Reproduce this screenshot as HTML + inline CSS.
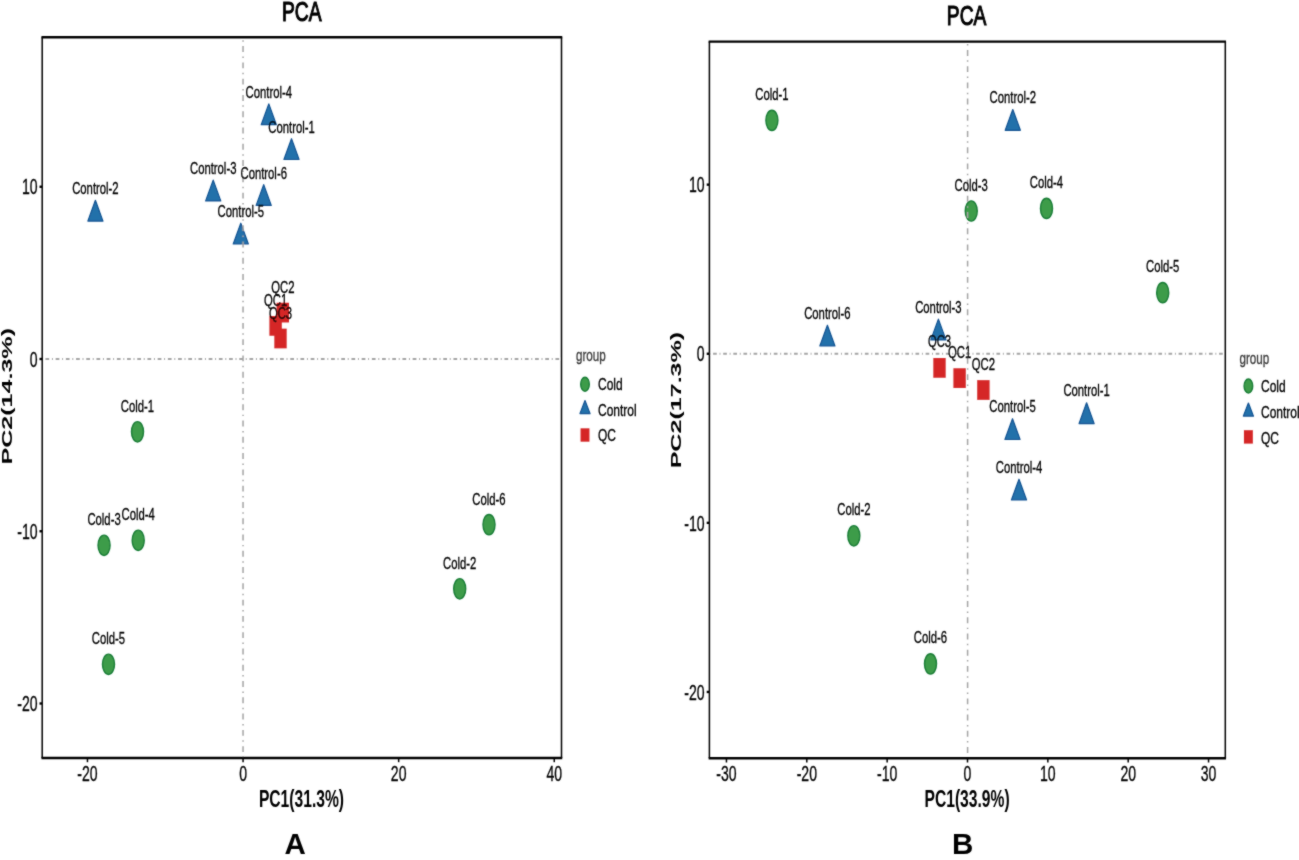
<!DOCTYPE html>
<html><head><meta charset="utf-8"><style>
html,body{margin:0;padding:0;background:#fff;}
svg{display:block;}
text{font-family:"Liberation Sans", sans-serif;}
</style></head><body>
<svg width="1299" height="860" viewBox="0 0 1299 860">
<defs><filter id="bl" x="0" y="0" width="1299" height="860" filterUnits="userSpaceOnUse"><feConvolveMatrix order="3" kernelMatrix="1 2 1 2 16 2 1 2 1" divisor="28" edgeMode="duplicate" preserveAlpha="false"/></filter></defs>
<rect width="1299" height="860" fill="#fff"/>
<g filter="url(#bl)">
<text transform="translate(301.70,20.60) scale(0.675,1)" font-size="28.5" text-anchor="middle" font-weight="normal" fill="#000" stroke="#000" stroke-width="1.2">PCA</text>
<polygon points="268.80,103.90 276.35,124.70 261.25,124.70" fill="#2471aa" stroke="#125293" stroke-width="1.2" stroke-linejoin="round"/>
<polygon points="291.50,138.70 299.05,159.50 283.95,159.50" fill="#2471aa" stroke="#125293" stroke-width="1.2" stroke-linejoin="round"/>
<polygon points="213.20,180.10 220.75,200.90 205.65,200.90" fill="#2471aa" stroke="#125293" stroke-width="1.2" stroke-linejoin="round"/>
<polygon points="263.70,184.60 271.25,205.40 256.15,205.40" fill="#2471aa" stroke="#125293" stroke-width="1.2" stroke-linejoin="round"/>
<polygon points="95.40,200.30 102.95,221.10 87.85,221.10" fill="#2471aa" stroke="#125293" stroke-width="1.2" stroke-linejoin="round"/>
<polygon points="240.80,223.20 248.35,244.00 233.25,244.00" fill="#2471aa" stroke="#125293" stroke-width="1.2" stroke-linejoin="round"/>
<rect x="274.30" y="328.65" width="12.40" height="19.70" fill="#d52727"/>
<rect x="269.40" y="316.05" width="12.40" height="19.70" fill="#d52727"/>
<rect x="276.60" y="302.75" width="12.40" height="19.70" fill="#d52727"/>
<ellipse cx="137.50" cy="431.80" rx="6.00" ry="10.15" fill="#3e9c4a" stroke="#187d36" stroke-width="1.4"/>
<ellipse cx="104.05" cy="545.30" rx="6.00" ry="10.15" fill="#3e9c4a" stroke="#187d36" stroke-width="1.4"/>
<ellipse cx="138.20" cy="540.30" rx="6.00" ry="10.15" fill="#3e9c4a" stroke="#187d36" stroke-width="1.4"/>
<ellipse cx="108.50" cy="664.30" rx="6.00" ry="10.15" fill="#3e9c4a" stroke="#187d36" stroke-width="1.4"/>
<ellipse cx="489.00" cy="524.60" rx="6.00" ry="10.15" fill="#3e9c4a" stroke="#187d36" stroke-width="1.4"/>
<ellipse cx="459.70" cy="588.80" rx="6.00" ry="10.15" fill="#3e9c4a" stroke="#187d36" stroke-width="1.4"/>
<line x1="243.05" y1="758.00" x2="243.05" y2="37.20" stroke="#a4a4a4" stroke-width="1.5" stroke-dasharray="1.48 4.44 5.92 4.44" stroke-dashoffset="0"/>
<line x1="42.20" y1="359.00" x2="561.50" y2="359.00" stroke="#a4a4a4" stroke-width="2.1" stroke-dasharray="0.93 2.78 3.71 2.78" stroke-dashoffset="0.45"/>
<text transform="translate(268.80,97.97) scale(0.665,1)" font-size="17.0" text-anchor="middle" font-weight="normal" fill="#000" stroke="#000" stroke-width="0.35">Control-4</text>
<text transform="translate(291.50,132.77) scale(0.665,1)" font-size="17.0" text-anchor="middle" font-weight="normal" fill="#000" stroke="#000" stroke-width="0.35">Control-1</text>
<text transform="translate(213.20,174.17) scale(0.665,1)" font-size="17.0" text-anchor="middle" font-weight="normal" fill="#000" stroke="#000" stroke-width="0.35">Control-3</text>
<text transform="translate(263.70,178.67) scale(0.665,1)" font-size="17.0" text-anchor="middle" font-weight="normal" fill="#000" stroke="#000" stroke-width="0.35">Control-6</text>
<text transform="translate(95.40,194.37) scale(0.665,1)" font-size="17.0" text-anchor="middle" font-weight="normal" fill="#000" stroke="#000" stroke-width="0.35">Control-2</text>
<text transform="translate(240.80,217.27) scale(0.665,1)" font-size="17.0" text-anchor="middle" font-weight="normal" fill="#000" stroke="#000" stroke-width="0.35">Control-5</text>
<text transform="translate(280.50,318.50) scale(0.665,1)" font-size="17.0" text-anchor="middle" font-weight="normal" fill="#000" stroke="#000" stroke-width="0.35">QC3</text>
<text transform="translate(275.60,305.90) scale(0.665,1)" font-size="17.0" text-anchor="middle" font-weight="normal" fill="#000" stroke="#000" stroke-width="0.35">QC1</text>
<text transform="translate(282.80,292.60) scale(0.665,1)" font-size="17.0" text-anchor="middle" font-weight="normal" fill="#000" stroke="#000" stroke-width="0.35">QC2</text>
<text transform="translate(137.50,411.80) scale(0.665,1)" font-size="17.0" text-anchor="middle" font-weight="normal" fill="#000" stroke="#000" stroke-width="0.35">Cold-1</text>
<text transform="translate(104.05,525.30) scale(0.665,1)" font-size="17.0" text-anchor="middle" font-weight="normal" fill="#000" stroke="#000" stroke-width="0.35">Cold-3</text>
<text transform="translate(138.20,520.30) scale(0.665,1)" font-size="17.0" text-anchor="middle" font-weight="normal" fill="#000" stroke="#000" stroke-width="0.35">Cold-4</text>
<text transform="translate(108.50,644.30) scale(0.665,1)" font-size="17.0" text-anchor="middle" font-weight="normal" fill="#000" stroke="#000" stroke-width="0.35">Cold-5</text>
<text transform="translate(489.00,504.60) scale(0.665,1)" font-size="17.0" text-anchor="middle" font-weight="normal" fill="#000" stroke="#000" stroke-width="0.35">Cold-6</text>
<text transform="translate(459.70,568.80) scale(0.665,1)" font-size="17.0" text-anchor="middle" font-weight="normal" fill="#000" stroke="#000" stroke-width="0.35">Cold-2</text>
<line x1="42.20" y1="37.20" x2="42.20" y2="758.00" stroke="#000" stroke-width="1.5"/>
<line x1="561.50" y1="37.20" x2="561.50" y2="758.00" stroke="#000" stroke-width="1.5"/>
<line x1="41.45" y1="37.20" x2="562.25" y2="37.20" stroke="#000" stroke-width="2.4"/>
<line x1="41.45" y1="758.00" x2="562.25" y2="758.00" stroke="#000" stroke-width="2.4"/>
<line x1="39.50" y1="186.75" x2="42.20" y2="186.75" stroke="#000" stroke-width="2.4"/>
<text transform="translate(37.60,194.45) scale(0.645,1)" font-size="21.8" text-anchor="end" font-weight="normal" fill="#000" stroke="#000" stroke-width="0.35">10</text>
<line x1="39.50" y1="359.00" x2="42.20" y2="359.00" stroke="#000" stroke-width="2.4"/>
<text transform="translate(37.60,366.70) scale(0.645,1)" font-size="21.8" text-anchor="end" font-weight="normal" fill="#000" stroke="#000" stroke-width="0.35">0</text>
<line x1="39.50" y1="531.25" x2="42.20" y2="531.25" stroke="#000" stroke-width="2.4"/>
<text transform="translate(37.60,538.95) scale(0.645,1)" font-size="21.8" text-anchor="end" font-weight="normal" fill="#000" stroke="#000" stroke-width="0.35">-10</text>
<line x1="39.50" y1="703.50" x2="42.20" y2="703.50" stroke="#000" stroke-width="2.4"/>
<text transform="translate(37.60,711.20) scale(0.645,1)" font-size="21.8" text-anchor="end" font-weight="normal" fill="#000" stroke="#000" stroke-width="0.35">-20</text>
<line x1="87.46" y1="758.00" x2="87.46" y2="762.20" stroke="#000" stroke-width="1.5"/>
<text transform="translate(87.46,781.00) scale(0.645,1)" font-size="21.8" text-anchor="middle" font-weight="normal" fill="#000" stroke="#000" stroke-width="0.35">-20</text>
<line x1="243.06" y1="758.00" x2="243.06" y2="762.20" stroke="#000" stroke-width="1.5"/>
<text transform="translate(243.06,781.00) scale(0.645,1)" font-size="21.8" text-anchor="middle" font-weight="normal" fill="#000" stroke="#000" stroke-width="0.35">0</text>
<line x1="398.66" y1="758.00" x2="398.66" y2="762.20" stroke="#000" stroke-width="1.5"/>
<text transform="translate(398.66,781.00) scale(0.645,1)" font-size="21.8" text-anchor="middle" font-weight="normal" fill="#000" stroke="#000" stroke-width="0.35">20</text>
<line x1="554.26" y1="758.00" x2="554.26" y2="762.20" stroke="#000" stroke-width="1.5"/>
<text transform="translate(554.26,781.00) scale(0.645,1)" font-size="21.8" text-anchor="middle" font-weight="normal" fill="#000" stroke="#000" stroke-width="0.35">40</text>
<text transform="translate(301.45,806.50) scale(0.68,1)" font-size="23.0" text-anchor="middle" font-weight="bold" fill="#000">PC1(31.3%)</text>
<text transform="translate(12.30,396.30) scale(0.61,1) rotate(-90)" font-size="25.1" text-anchor="middle" font-weight="bold">PC2(14.3%)</text>
<text x="295.20" y="853.50" font-size="29.5" text-anchor="middle" font-weight="bold">A</text>
<text transform="translate(576.00,361.10) scale(0.67,1)" font-size="17.4" text-anchor="start" font-weight="normal" fill="#3a3a3a" stroke="#3a3a3a" stroke-width="0.35">group</text>
<ellipse cx="585.00" cy="384.20" rx="4.30" ry="7.00" fill="#3e9c4a" stroke="#187d36" stroke-width="1.4"/>
<polygon points="585.00,400.50 590.05,413.60 579.95,413.60" fill="#2471aa" stroke="#125293" stroke-width="1.2" stroke-linejoin="round"/>
<rect x="580.55" y="428.30" width="8.90" height="13.40" fill="#d52727"/>
<text transform="translate(598.00,389.90) scale(0.69,1)" font-size="17.4" text-anchor="start" font-weight="normal" fill="#000" stroke="#000" stroke-width="0.35">Cold</text>
<text transform="translate(598.00,415.50) scale(0.69,1)" font-size="17.4" text-anchor="start" font-weight="normal" fill="#000" stroke="#000" stroke-width="0.35">Control</text>
<text transform="translate(598.00,441.00) scale(0.69,1)" font-size="17.4" text-anchor="start" font-weight="normal" fill="#000" stroke="#000" stroke-width="0.35">QC</text>
<text transform="translate(966.60,25.30) scale(0.675,1)" font-size="28.5" text-anchor="middle" font-weight="normal" fill="#000" stroke="#000" stroke-width="1.2">PCA</text>
<ellipse cx="771.90" cy="120.35" rx="6.00" ry="10.15" fill="#3e9c4a" stroke="#187d36" stroke-width="1.4"/>
<polygon points="1012.80,109.50 1020.35,130.30 1005.25,130.30" fill="#2471aa" stroke="#125293" stroke-width="1.2" stroke-linejoin="round"/>
<ellipse cx="971.25" cy="211.00" rx="6.00" ry="10.15" fill="#3e9c4a" stroke="#187d36" stroke-width="1.4"/>
<ellipse cx="1046.50" cy="208.40" rx="6.00" ry="10.15" fill="#3e9c4a" stroke="#187d36" stroke-width="1.4"/>
<ellipse cx="1162.70" cy="292.60" rx="6.00" ry="10.15" fill="#3e9c4a" stroke="#187d36" stroke-width="1.4"/>
<polygon points="827.40,325.20 834.95,346.00 819.85,346.00" fill="#2471aa" stroke="#125293" stroke-width="1.2" stroke-linejoin="round"/>
<polygon points="938.40,319.10 945.95,339.90 930.85,339.90" fill="#2471aa" stroke="#125293" stroke-width="1.2" stroke-linejoin="round"/>
<rect x="933.30" y="358.05" width="12.40" height="19.70" fill="#d52727"/>
<rect x="953.40" y="368.25" width="12.40" height="19.70" fill="#d52727"/>
<rect x="977.20" y="380.15" width="12.40" height="19.70" fill="#d52727"/>
<polygon points="1012.50,418.70 1020.05,439.50 1004.95,439.50" fill="#2471aa" stroke="#125293" stroke-width="1.2" stroke-linejoin="round"/>
<polygon points="1086.60,402.80 1094.15,423.60 1079.05,423.60" fill="#2471aa" stroke="#125293" stroke-width="1.2" stroke-linejoin="round"/>
<polygon points="1019.00,479.20 1026.55,500.00 1011.45,500.00" fill="#2471aa" stroke="#125293" stroke-width="1.2" stroke-linejoin="round"/>
<ellipse cx="853.85" cy="535.80" rx="6.00" ry="10.15" fill="#3e9c4a" stroke="#187d36" stroke-width="1.4"/>
<ellipse cx="930.50" cy="663.85" rx="6.00" ry="10.15" fill="#3e9c4a" stroke="#187d36" stroke-width="1.4"/>
<line x1="967.60" y1="758.30" x2="967.60" y2="41.60" stroke="#a4a4a4" stroke-width="1.5" stroke-dasharray="1.47 4.42 5.90 4.42" stroke-dashoffset="0.5"/>
<line x1="709.40" y1="353.80" x2="1225.30" y2="353.80" stroke="#a4a4a4" stroke-width="2.1" stroke-dasharray="0.92 2.76 3.68 2.76" stroke-dashoffset="0"/>
<text transform="translate(771.90,99.85) scale(0.665,1)" font-size="17.0" text-anchor="middle" font-weight="normal" fill="#000" stroke="#000" stroke-width="0.35">Cold-1</text>
<text transform="translate(1012.80,103.07) scale(0.665,1)" font-size="17.0" text-anchor="middle" font-weight="normal" fill="#000" stroke="#000" stroke-width="0.35">Control-2</text>
<text transform="translate(971.25,190.50) scale(0.665,1)" font-size="17.0" text-anchor="middle" font-weight="normal" fill="#000" stroke="#000" stroke-width="0.35">Cold-3</text>
<text transform="translate(1046.50,187.90) scale(0.665,1)" font-size="17.0" text-anchor="middle" font-weight="normal" fill="#000" stroke="#000" stroke-width="0.35">Cold-4</text>
<text transform="translate(1162.70,272.10) scale(0.665,1)" font-size="17.0" text-anchor="middle" font-weight="normal" fill="#000" stroke="#000" stroke-width="0.35">Cold-5</text>
<text transform="translate(827.40,318.77) scale(0.665,1)" font-size="17.0" text-anchor="middle" font-weight="normal" fill="#000" stroke="#000" stroke-width="0.35">Control-6</text>
<text transform="translate(938.40,312.67) scale(0.665,1)" font-size="17.0" text-anchor="middle" font-weight="normal" fill="#000" stroke="#000" stroke-width="0.35">Control-3</text>
<text transform="translate(939.50,347.40) scale(0.665,1)" font-size="17.0" text-anchor="middle" font-weight="normal" fill="#000" stroke="#000" stroke-width="0.35">QC3</text>
<text transform="translate(959.60,357.60) scale(0.665,1)" font-size="17.0" text-anchor="middle" font-weight="normal" fill="#000" stroke="#000" stroke-width="0.35">QC1</text>
<text transform="translate(983.40,369.50) scale(0.665,1)" font-size="17.0" text-anchor="middle" font-weight="normal" fill="#000" stroke="#000" stroke-width="0.35">QC2</text>
<text transform="translate(1012.50,412.27) scale(0.665,1)" font-size="17.0" text-anchor="middle" font-weight="normal" fill="#000" stroke="#000" stroke-width="0.35">Control-5</text>
<text transform="translate(1086.60,396.37) scale(0.665,1)" font-size="17.0" text-anchor="middle" font-weight="normal" fill="#000" stroke="#000" stroke-width="0.35">Control-1</text>
<text transform="translate(1019.00,472.77) scale(0.665,1)" font-size="17.0" text-anchor="middle" font-weight="normal" fill="#000" stroke="#000" stroke-width="0.35">Control-4</text>
<text transform="translate(853.85,515.30) scale(0.665,1)" font-size="17.0" text-anchor="middle" font-weight="normal" fill="#000" stroke="#000" stroke-width="0.35">Cold-2</text>
<text transform="translate(930.50,643.35) scale(0.665,1)" font-size="17.0" text-anchor="middle" font-weight="normal" fill="#000" stroke="#000" stroke-width="0.35">Cold-6</text>
<line x1="709.40" y1="41.60" x2="709.40" y2="758.30" stroke="#000" stroke-width="1.5"/>
<line x1="1225.30" y1="41.60" x2="1225.30" y2="758.30" stroke="#000" stroke-width="1.5"/>
<line x1="708.65" y1="41.60" x2="1226.05" y2="41.60" stroke="#000" stroke-width="2.4"/>
<line x1="708.65" y1="758.30" x2="1226.05" y2="758.30" stroke="#000" stroke-width="2.4"/>
<line x1="706.70" y1="184.65" x2="709.40" y2="184.65" stroke="#000" stroke-width="2.4"/>
<text transform="translate(704.60,192.35) scale(0.645,1)" font-size="21.8" text-anchor="end" font-weight="normal" fill="#000" stroke="#000" stroke-width="0.35">10</text>
<line x1="706.70" y1="353.75" x2="709.40" y2="353.75" stroke="#000" stroke-width="2.4"/>
<text transform="translate(704.60,361.45) scale(0.645,1)" font-size="21.8" text-anchor="end" font-weight="normal" fill="#000" stroke="#000" stroke-width="0.35">0</text>
<line x1="706.70" y1="522.85" x2="709.40" y2="522.85" stroke="#000" stroke-width="2.4"/>
<text transform="translate(704.60,530.55) scale(0.645,1)" font-size="21.8" text-anchor="end" font-weight="normal" fill="#000" stroke="#000" stroke-width="0.35">-10</text>
<line x1="706.70" y1="691.95" x2="709.40" y2="691.95" stroke="#000" stroke-width="2.4"/>
<text transform="translate(704.60,699.65) scale(0.645,1)" font-size="21.8" text-anchor="end" font-weight="normal" fill="#000" stroke="#000" stroke-width="0.35">-20</text>
<line x1="726.45" y1="758.30" x2="726.45" y2="762.50" stroke="#000" stroke-width="1.5"/>
<text transform="translate(726.45,781.30) scale(0.645,1)" font-size="21.8" text-anchor="middle" font-weight="normal" fill="#000" stroke="#000" stroke-width="0.35">-30</text>
<line x1="806.80" y1="758.30" x2="806.80" y2="762.50" stroke="#000" stroke-width="1.5"/>
<text transform="translate(806.80,781.30) scale(0.645,1)" font-size="21.8" text-anchor="middle" font-weight="normal" fill="#000" stroke="#000" stroke-width="0.35">-20</text>
<line x1="887.15" y1="758.30" x2="887.15" y2="762.50" stroke="#000" stroke-width="1.5"/>
<text transform="translate(887.15,781.30) scale(0.645,1)" font-size="21.8" text-anchor="middle" font-weight="normal" fill="#000" stroke="#000" stroke-width="0.35">-10</text>
<line x1="967.50" y1="758.30" x2="967.50" y2="762.50" stroke="#000" stroke-width="1.5"/>
<text transform="translate(967.50,781.30) scale(0.645,1)" font-size="21.8" text-anchor="middle" font-weight="normal" fill="#000" stroke="#000" stroke-width="0.35">0</text>
<line x1="1047.85" y1="758.30" x2="1047.85" y2="762.50" stroke="#000" stroke-width="1.5"/>
<text transform="translate(1047.85,781.30) scale(0.645,1)" font-size="21.8" text-anchor="middle" font-weight="normal" fill="#000" stroke="#000" stroke-width="0.35">10</text>
<line x1="1128.20" y1="758.30" x2="1128.20" y2="762.50" stroke="#000" stroke-width="1.5"/>
<text transform="translate(1128.20,781.30) scale(0.645,1)" font-size="21.8" text-anchor="middle" font-weight="normal" fill="#000" stroke="#000" stroke-width="0.35">20</text>
<line x1="1208.55" y1="758.30" x2="1208.55" y2="762.50" stroke="#000" stroke-width="1.5"/>
<text transform="translate(1208.55,781.30) scale(0.645,1)" font-size="21.8" text-anchor="middle" font-weight="normal" fill="#000" stroke="#000" stroke-width="0.35">30</text>
<text transform="translate(967.05,806.50) scale(0.68,1)" font-size="23.0" text-anchor="middle" font-weight="bold" fill="#000">PC1(33.9%)</text>
<text transform="translate(680.60,400.10) scale(0.61,1) rotate(-90)" font-size="25.1" text-anchor="middle" font-weight="bold">PC2(17.3%)</text>
<text x="962.60" y="853.50" font-size="29.5" text-anchor="middle" font-weight="bold">B</text>
<text transform="translate(1239.50,363.70) scale(0.67,1)" font-size="17.4" text-anchor="start" font-weight="normal" fill="#3a3a3a" stroke="#3a3a3a" stroke-width="0.35">group</text>
<ellipse cx="1248.40" cy="386.00" rx="4.30" ry="7.00" fill="#3e9c4a" stroke="#187d36" stroke-width="1.4"/>
<polygon points="1248.40,403.00 1253.45,416.10 1243.35,416.10" fill="#2471aa" stroke="#125293" stroke-width="1.2" stroke-linejoin="round"/>
<rect x="1243.95" y="430.20" width="8.90" height="13.40" fill="#d52727"/>
<text transform="translate(1261.00,392.40) scale(0.69,1)" font-size="17.4" text-anchor="start" font-weight="normal" fill="#000" stroke="#000" stroke-width="0.35">Cold</text>
<text transform="translate(1261.00,418.00) scale(0.69,1)" font-size="17.4" text-anchor="start" font-weight="normal" fill="#000" stroke="#000" stroke-width="0.35">Control</text>
<text transform="translate(1261.00,443.60) scale(0.69,1)" font-size="17.4" text-anchor="start" font-weight="normal" fill="#000" stroke="#000" stroke-width="0.35">QC</text>
</g>
</svg>
</body></html>
